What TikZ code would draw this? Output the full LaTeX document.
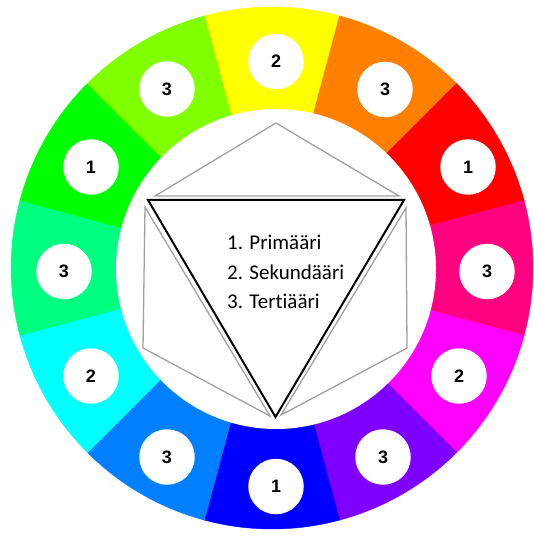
\documentclass[tikz,border=0pt]{standalone}
\usepackage{fontspec}
\setmainfont{Carlito}[Ligatures=NoCommon]
\newfontfamily\numfont{Liberation Sans}
\definecolor{edgegray}{HTML}{A0A0A0}
\begin{document}
\begin{tikzpicture}[x=1pt,y=1pt,
  num/.style={circle,fill=white,minimum size=55.5pt,inner sep=0pt,
    font=\numfont\bfseries\fontsize{18}{18}\selectfont},
  grayedge/.style={draw=edgegray,line width=1.3pt,line join=miter},
  tri/.style={draw=black,line width=2pt,line join=miter},
  lbl/.style={anchor=base west,inner sep=0pt,font=\fontsize{21}{21}\selectfont}]
\useasboundingbox (0,0) rectangle (533,-537);
\coordinate (C) at (272,-268);
% colour ring
\foreach \a/\c in {90/FFFF00,60/FF8000,30/FF0000,0/FF0080,-30/FF00FF,-60/8000FF,
                   -90/0000FF,-120/0080FF,-150/00FFFF,180/00FF80,150/00FF00,120/80FF00}{
  \definecolor{segc}{HTML}{\c}
  \filldraw[fill=segc,draw=segc,line width=0.4pt] (C) -- ++(\a-15:261)
     arc[start angle=\a-15,end angle=\a+15,radius=261] -- cycle;
}
\fill[white] (276,-269) circle[radius=160];
% number discs
\node[num] (n90)  at (276,-61.5) {2};
\node[num] (n60)  at (385,-89.5) {3};
\node[num] (n30)  at (468,-167) {1};
\node[num] (n0)   at (487,-271.5) {3};
\node[num] (nm30) at (459,-376) {2};
\node[num] (nm60) at (383,-457) {3};
\node[num] (nm90) at (276,-486.5) {1};
\node[num] (nm120) at (167,-457) {3};
\node[num] (nm150) at (91,-376) {2};
\node[num] (n180) at (64,-271.5) {3};
\node[num] (n150) at (91,-167) {1};
\node[num] (n120) at (167,-89) {3};
% gray hexagon pieces
\coordinate (T)  at (276,-123);
\coordinate (tl) at (155,-196);
\coordinate (tr) at (399,-196);
\coordinate (l1) at (145,-207);
\coordinate (l2) at (143,-348);
\coordinate (l3) at (270,-416);
\coordinate (r1) at (406,-208);
\coordinate (r2) at (407,-348);
\coordinate (r3) at (281,-415);
\draw[grayedge] (tl) -- (T) -- (tr) -- cycle;
\draw[grayedge] (l1) -- (l2) -- (l3) -- cycle;
\draw[grayedge] (r1) -- (r2) -- (r3) -- cycle;
% black triangle
\coordinate (A) at (148,-200);
\coordinate (B) at (404,-200);
\coordinate (D) at (275.5,-417);
\draw[tri] (A) -- (B) -- (D) -- cycle;
% legend
\node[lbl] (t1) at (227,-249.5) {1. Primääri};
\node[lbl] (t2) at (227,-279) {2. Sekundääri};
\node[lbl] (t3) at (227,-308.5) {3. Tertiääri};
\end{tikzpicture}
\end{document}
